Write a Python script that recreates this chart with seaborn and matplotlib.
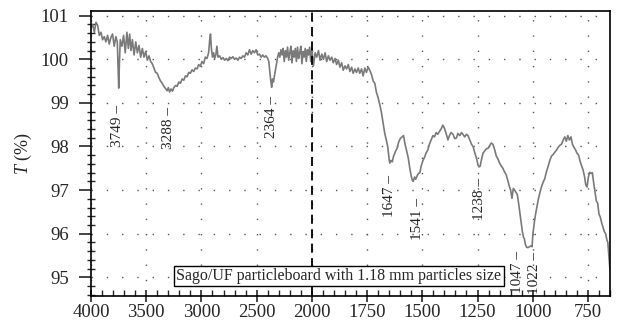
import matplotlib
matplotlib.use("Agg")
import matplotlib.pyplot as plt
import matplotlib.ticker as mticker
import seaborn as sns
import pandas as pd
import numpy as np

# FTIR spectrum (wavenumber in cm-1, transmittance in %)
wavenumber = [
    4000, 3985, 3970, 3955, 3940, 3925, 3910, 3895, 3880, 3865, 3850, 3835, 3820, 3805,
    3790, 3775, 3762, 3755, 3749, 3743, 3735, 3720, 3705, 3690, 3675, 3662, 3650, 3638,
    3625, 3610, 3595, 3580, 3565, 3550, 3535, 3520, 3505, 3490, 3475, 3460, 3445, 3430,
    3415, 3400, 3385, 3370, 3355, 3340, 3325, 3310, 3300, 3288, 3275, 3262, 3250, 3235,
    3220, 3205, 3190, 3175, 3160, 3145, 3130, 3115, 3100, 3085, 3070, 3055, 3040, 3025,
    3010, 2995, 2980, 2965, 2950, 2935, 2925, 2918, 2910, 2900, 2890, 2880, 2870, 2860,
    2850, 2835, 2820, 2805, 2790, 2775, 2760, 2745, 2730, 2715, 2700, 2685, 2670, 2655,
    2640, 2625, 2610, 2595, 2580, 2565, 2550, 2535, 2520, 2505, 2490, 2475, 2460, 2445,
    2430, 2415, 2400, 2390, 2380, 2372, 2364, 2356, 2348, 2340, 2330, 2320, 2310, 2300,
    2290, 2280, 2270, 2260, 2250, 2240, 2230, 2220, 2210, 2200, 2190, 2180, 2170, 2160,
    2150, 2140, 2130, 2120, 2110, 2100, 2090, 2080, 2070, 2060, 2050, 2040, 2030, 2020,
    2010, 2000, 1993, 1985, 1978, 1970, 1963, 1955, 1948, 1940, 1933, 1925, 1918, 1910,
    1903, 1895, 1888, 1880, 1873, 1865, 1858, 1850, 1843, 1835, 1828, 1820, 1813, 1805,
    1798, 1790, 1783, 1775, 1768, 1760, 1753, 1745, 1738, 1730, 1722, 1715, 1708, 1700,
    1692, 1685, 1678, 1670, 1663, 1656, 1650, 1647, 1642, 1636, 1630, 1622, 1615, 1607,
    1600, 1592, 1585, 1578, 1570, 1563, 1556, 1550, 1545, 1541, 1535, 1530, 1524, 1518,
    1511, 1505, 1497, 1490, 1483, 1475, 1468, 1460, 1452, 1445, 1437, 1430, 1422, 1415,
    1407, 1400, 1392, 1384, 1377, 1370, 1361, 1353, 1345, 1339, 1330, 1323, 1316, 1308,
    1300, 1293, 1285, 1277, 1270, 1262, 1255, 1248, 1243, 1238, 1232, 1225, 1217, 1210,
    1202, 1195, 1188, 1180, 1172, 1165, 1158, 1150, 1142, 1135, 1128, 1120, 1112, 1105,
    1100, 1094, 1088, 1082, 1076, 1070, 1064, 1058, 1052, 1047, 1042, 1038, 1033, 1028,
    1022, 1015, 1008, 1003, 999, 993, 987, 981, 975, 967, 960, 953, 945, 938,
    930, 922, 915, 907, 900, 892, 885, 877, 870, 862, 855, 848, 841, 834,
    827, 820, 813, 806, 800, 792, 785, 778, 772, 765, 760, 754, 748, 742,
    736, 730, 725, 718, 712, 706, 700, 694, 688, 682, 676, 670, 664, 660,
    656, 652, 650,
]
transmittance = [
    100.72, 100.80, 100.62, 100.85, 100.78, 100.55, 100.62, 100.45, 100.52, 100.40, 100.55, 100.35, 100.50, 100.58,
    100.30, 100.52, 100.40, 99.80, 99.34, 99.90, 100.45, 100.30, 100.55, 100.15, 100.62, 100.25, 100.58, 100.20,
    100.45, 100.10, 100.40, 100.15, 100.32, 100.05, 100.25, 100.05, 100.18, 99.98, 100.08, 99.95, 99.90, 99.80,
    99.70, 99.68, 99.58, 99.50, 99.45, 99.38, 99.33, 99.28, 99.35, 99.25, 99.32, 99.27, 99.35, 99.40,
    99.38, 99.48, 99.45, 99.55, 99.52, 99.62, 99.60, 99.70, 99.68, 99.76, 99.72, 99.80, 99.78, 99.88,
    99.84, 99.95, 99.90, 100.05, 100.02, 100.15, 100.45, 100.58, 100.25, 100.05, 100.15, 100.02, 100.10, 100.30,
    100.05, 100.08, 100.00, 100.04, 99.98, 100.02, 99.97, 100.05, 100.02, 100.06, 100.00, 100.03, 99.98, 100.05,
    100.02, 100.08, 100.05, 100.15, 100.10, 100.22, 100.12, 100.20, 100.15, 100.22, 100.10, 100.12, 100.05, 100.10,
    100.05, 100.08, 100.02, 99.95, 99.70, 99.50, 99.36, 99.55, 99.48, 99.60, 99.75, 99.90, 100.05, 100.15,
    100.05, 100.22, 100.10, 100.25, 99.95, 100.20, 100.05, 100.28, 99.98, 100.15, 100.30, 99.92, 100.20, 100.05,
    100.25, 99.95, 100.28, 100.02, 100.15, 100.30, 99.90, 100.18, 100.05, 100.25, 99.95, 100.22, 100.10, 100.28,
    99.95, 100.25, 99.85, 100.15, 100.05, 100.20, 99.98, 100.12, 100.00, 100.15, 99.95, 100.08, 99.98, 100.05,
    99.92, 100.02, 99.88, 99.98, 99.82, 99.92, 99.75, 99.85, 99.78, 99.88, 99.72, 99.82, 99.68, 99.78,
    99.70, 99.80, 99.68, 99.78, 99.62, 99.80, 99.70, 99.82, 99.75, 99.65, 99.50, 99.45, 99.25, 99.12,
    98.95, 98.78, 98.55, 98.30, 98.15, 97.98, 97.70, 97.62, 97.68, 97.65, 97.78, 97.88, 97.95, 98.10,
    98.18, 98.22, 98.25, 98.05, 97.88, 97.72, 97.48, 97.32, 97.22, 97.20, 97.30, 97.25, 97.32, 97.38,
    97.40, 97.55, 97.68, 97.75, 97.85, 97.92, 98.05, 98.15, 98.25, 98.22, 98.32, 98.28, 98.35, 98.40,
    98.49, 98.42, 98.30, 98.15, 98.25, 98.32, 98.28, 98.18, 98.20, 98.30, 98.25, 98.32, 98.28, 98.22,
    98.28, 98.25, 98.15, 98.05, 98.00, 97.85, 97.74, 97.58, 97.53, 97.55, 97.70, 97.85, 97.90, 97.95,
    97.96, 98.02, 98.08, 98.05, 97.92, 97.78, 97.72, 97.62, 97.55, 97.50, 97.42, 97.35, 97.20, 97.07,
    97.00, 96.81, 97.04, 97.00, 96.95, 96.90, 96.70, 96.47, 96.25, 96.05, 95.92, 95.88, 95.75, 95.69,
    95.68, 95.70, 95.72, 95.70, 96.00, 96.25, 96.45, 96.61, 96.78, 96.95, 97.08, 97.18, 97.27, 97.42,
    97.55, 97.69, 97.78, 97.82, 97.87, 97.92, 97.98, 98.03, 98.05, 98.15, 98.22, 98.12, 98.25, 98.15,
    98.22, 98.05, 97.98, 97.92, 97.85, 97.80, 97.65, 97.55, 97.46, 97.30, 97.12, 97.07, 97.30, 97.41,
    97.38, 97.40, 97.20, 96.95, 96.75, 96.70, 96.45, 96.38, 96.25, 96.15, 96.05, 96.00, 95.85, 95.80,
    95.55, 95.30, 95.15,
]

# peak labels and where they sit
peak_labels = ["3749", "3288", "2364", "1647", "1541", "1238", "1047", "1022"]
label_x = [3760, 3300, 2365, 1647, 1520, 1239, 1070, 990]
label_y = [98.47, 98.43, 98.68, 96.86, 96.33, 96.80, 95.11, 95.10]

major_x = [4000, 3500, 3000, 2500, 2000, 1750, 1500, 1250, 1000, 750]
major_y = [95, 96, 97, 98, 99, 100, 101]
caption = "Sago/UF particleboard with 1.18 mm particles size"

df = pd.DataFrame({"wavenumber": wavenumber, "T": transmittance})

sns.set_style("ticks")
plt.rcParams["font.family"] = ["Liberation Serif", "DejaVu Serif"]
plt.rcParams["mathtext.fontset"] = "custom"
plt.rcParams["mathtext.rm"] = "Liberation Serif"
plt.rcParams["mathtext.it"] = "Liberation Serif:italic"


# FTIR split scale: 4000-2000 compressed by two
def forward(x):
    x = np.asarray(x, dtype=float)
    return np.where(x >= 2000, x / 2 + 1000, x)


def inverse(y):
    y = np.asarray(y, dtype=float)
    return np.where(y >= 2000, (y - 1000) * 2, y)


fig = plt.figure(figsize=(6.17, 3.28), dpi=100)
ax = fig.add_axes([0.1475, 0.0976, 0.8412, 0.869])
ax.set_xscale("function", functions=(forward, inverse))

sns.lineplot(data=df, x="wavenumber", y="T", ax=ax, color="#7a7a7a",
             linewidth=1.2, sort=False, estimator=None)

ax.set_xlim(4000, 650)
ax.set_ylim(94.57, 101.11)

ax.xaxis.set_major_locator(mticker.FixedLocator(major_x))
ax.xaxis.set_minor_locator(mticker.FixedLocator(
    list(range(4000, 2000, -100)) + list(range(2000, 600, -50))))
ax.xaxis.set_major_formatter(mticker.FuncFormatter(lambda v, p: f"{int(round(v))}"))
ax.xaxis.set_minor_formatter(mticker.NullFormatter())
ax.yaxis.set_major_locator(mticker.FixedLocator(major_y))
ax.yaxis.set_minor_locator(mticker.MultipleLocator(0.2))

ax.tick_params(axis="x", which="major", direction="inout", length=9, width=1.2, labelsize=13.5, pad=1)
ax.tick_params(axis="x", which="minor", direction="in", length=4, width=1.0)
ax.tick_params(axis="y", which="major", direction="out", length=9, width=1.2, labelsize=13.5, pad=7)
ax.tick_params(axis="y", which="minor", direction="inout", length=6, width=1.0)

for sp in ax.spines.values():
    sp.set_linewidth(1.2)
    sp.set_color("black")

ax.grid(True, which="major", color="#555555", linestyle=(0, (1, 10)), linewidth=1.0)
ax.axvline(2000, color="black", linestyle=(0, (5, 3)), linewidth=1.3)

ax.set_xlabel("")
ax.set_ylabel("$T$ (%)", fontsize=13, labelpad=5)

for lab, lx, ly in zip(peak_labels, label_x, label_y):
    ax.text(lx, ly, lab + " \u2013", rotation=90, ha="center", va="center", fontsize=11)

ax.text(0.164, 0.07, caption, transform=ax.transAxes, ha="left", va="center", fontsize=11.5,
        bbox=dict(boxstyle="square,pad=0.15", facecolor="white", edgecolor="black", linewidth=1.0))

fig.savefig("out.png", dpi=100)
